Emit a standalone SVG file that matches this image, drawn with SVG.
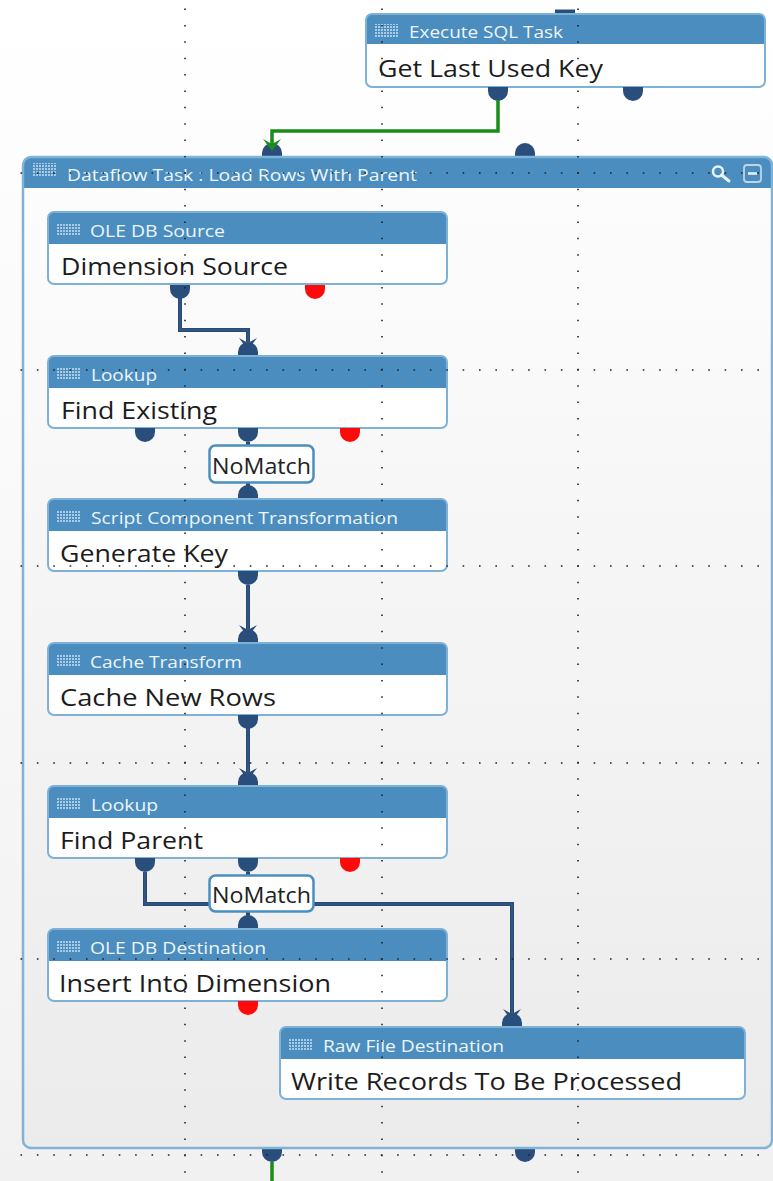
<svg xmlns="http://www.w3.org/2000/svg" xmlns:xlink="http://www.w3.org/1999/xlink" width="773" height="1181" viewBox="0 0 773 1181">
<defs>
<style>
.hdr{fill:#4a8dbe}
.frame{fill:none;stroke:#7eb1d6;stroke-width:2}
.th{font-family:"Open Sans","Noto Sans","Liberation Sans",sans-serif;font-size:16px;fill:#eef5fb}
.tb{font-family:"Open Sans","Noto Sans","Liberation Sans",sans-serif;font-size:24px;fill:#1c1c1c}
.tl{font-family:"Open Sans","Noto Sans","Liberation Sans",sans-serif;font-size:21px;fill:#222}
.port{fill:#2a4e7b}
.perr{fill:#ff0a0a}
.conn{fill:none;stroke:#284a77;stroke-width:4}
.connhi{fill:none;stroke:#3b5f8c;stroke-width:1}
.arr{fill:#284a77}
.green{fill:none;stroke:#1a8c1a;stroke-width:3.5}
.garr{fill:#1a8c1a}
.lbl{fill:#fff;stroke:#4a8fc0;stroke-width:2.5}
.grid{stroke:#222;stroke-width:1.6;stroke-dasharray:1.6 14.775;fill:none}
</style>
<linearGradient id="pagebg" x1="0" y1="0" x2="0" y2="1">
<stop offset="0" stop-color="#ffffff"/><stop offset="1" stop-color="#f1f1f1"/>
</linearGradient>
<linearGradient id="cbg" x1="0" y1="0" x2="0" y2="1">
<stop offset="0" stop-color="#fdfdfd"/><stop offset="1" stop-color="#ebebeb"/>
</linearGradient>
<pattern id="gi" width="3" height="3" patternUnits="userSpaceOnUse">
<rect x="0" y="0" width="2" height="2" fill="#a9cbe3"/>
</pattern>
<path id="outP" d="M-10,0 V4 A10,10 0 0 0 10,4 V0 Z"/>
<path id="inP" d="M-10,0 V-4 A10,10 0 0 1 10,-4 V0 Z"/>
<g id="box399">
<rect x="0" y="0" width="399" height="72" rx="6" fill="#fff"/>
<path class="hdr" d="M0,32 V6 Q0,0 6,0 H393 Q399,0 399,6 V32 Z"/>
<rect x="9" y="11" width="23" height="13" fill="url(#gi)"/>
<rect class="frame" x="0" y="0" width="399" height="72" rx="6"/>
</g>
<g id="box465">
<rect x="0" y="0" width="465" height="72" rx="6" fill="#fff"/>
<path class="hdr" d="M0,32 V6 Q0,0 6,0 H459 Q465,0 465,6 V32 Z"/>
<rect x="9" y="11" width="23" height="13" fill="url(#gi)"/>
<rect class="frame" x="0" y="0" width="465" height="72" rx="6"/>
</g>
</defs>

<rect x="0" y="0" width="773" height="1181" fill="url(#pagebg)"/>

<g id="node-execute-sql">
<rect class="port" x="555" y="9.5" width="20" height="4"/>
<g transform="translate(366,14)"><rect x="0" y="0" width="399" height="73" rx="6" fill="#fff"/>
<path class="hdr" d="M0,30 V6 Q0,0 6,0 H393 Q399,0 399,6 V30 Z"/>
<rect x="9" y="10" width="23" height="13" fill="url(#gi)"/>
<rect class="frame" x="0" y="0" width="399" height="73" rx="6"/></g>
<text class="th" x="409" y="38" textLength="154" lengthAdjust="spacingAndGlyphs">Execute SQL Task</text>
<text class="tb" x="378" y="77" textLength="225" lengthAdjust="spacingAndGlyphs">Get Last Used Key</text>
<use href="#outP" class="port" x="498" y="87"/>
<use href="#outP" class="port" x="633" y="87"/>
</g>

<g id="node-dataflow-container">
<use href="#inP" class="port" x="272" y="157"/>
<use href="#inP" class="port" x="525" y="157"/>
<use href="#outP" class="port" x="272" y="1148"/>
<use href="#outP" class="port" x="525" y="1148"/>
<rect x="23" y="157" width="749" height="991" rx="8" fill="url(#cbg)"/>
<path class="hdr" d="M23,188 V165 Q23,157 31,157 H764 Q772,157 772,165 V188 Z"/>
<rect x="33" y="163" width="23" height="13" fill="url(#gi)"/>
<rect x="23" y="157" width="749" height="991" rx="8" fill="none" stroke="#7fb3d8" stroke-width="2.5"/>
<text class="th" x="67" y="181" textLength="350" lengthAdjust="spacingAndGlyphs">Dataflow Task : Load Rows With Parent</text>
<circle cx="718" cy="171.5" r="5" fill="none" stroke="#eaf3fa" stroke-width="2.5"/>
<line x1="721.5" y1="175" x2="729" y2="181" stroke="#eaf3fa" stroke-width="3" stroke-linecap="round"/>
<rect x="744" y="165" width="17" height="17" rx="3" fill="none" stroke="#b9d6eb" stroke-width="1.8"/>
<line x1="748" y1="173.5" x2="757" y2="173.5" stroke="#eaf3fa" stroke-width="2.5"/>
</g>

<g id="connectors">
<path class="green" d="M498,100 V131 H272 V145"/>
<path class="garr" d="M263,139 L272,144 L281,139 L272,151 Z"/>
<path class="green" d="M272,1162 V1181"/>
<path class="conn" d="M180,298 V330 H248 V342"/>
<path class="connhi" d="M180,298 V330 H248 V342"/>
<path class="arr" d="M239,338 L248,343 L257,338 L248,350 Z"/>
<path class="conn" d="M248,442 V486"/>
<path class="conn" d="M248,585 V629"/>
<path class="connhi" d="M248,585 V629"/>
<path class="arr" d="M239,625 L248,630 L257,625 L248,637 Z"/>
<path class="conn" d="M248,728 V772"/>
<path class="connhi" d="M248,728 V772"/>
<path class="arr" d="M239,768 L248,773 L257,768 L248,780 Z"/>
<path class="conn" d="M145,872 V904 H512 V1013"/>
<path class="connhi" d="M145,872 V904 H512 V1013"/>
<path class="arr" d="M503,1009 L512,1014 L521,1009 L512,1021 Z"/>
<path class="conn" d="M248,872 V916"/>
</g>

<g id="node-ole-db-source">
<use href="#box399" x="48" y="212"/>
<text class="th" x="90" y="237" textLength="135" lengthAdjust="spacingAndGlyphs">OLE DB Source</text>
<text class="tb" x="61" y="275" textLength="227" lengthAdjust="spacingAndGlyphs">Dimension Source</text>
<use href="#outP" class="port" x="180" y="285"/>
<use href="#outP" class="perr" x="315" y="285"/>
</g>

<g id="node-lookup-find-existing">
<use href="#inP" class="port" x="248" y="356"/>
<use href="#box399" x="48" y="356"/>
<text class="th" x="91" y="380.5" textLength="66" lengthAdjust="spacingAndGlyphs">Lookup</text>
<text class="tb" x="61" y="419" textLength="156" lengthAdjust="spacingAndGlyphs">Find Existing</text>
<use href="#outP" class="port" x="145" y="428"/>
<use href="#outP" class="port" x="248" y="428"/>
<use href="#outP" class="perr" x="350" y="428"/>
</g>

<g id="node-script-component">
<use href="#inP" class="port" x="248" y="499"/>
<use href="#box399" x="48" y="499"/>
<text class="th" x="91" y="523.5" textLength="307" lengthAdjust="spacingAndGlyphs">Script Component Transformation</text>
<text class="tb" x="60" y="562" textLength="168" lengthAdjust="spacingAndGlyphs">Generate Key</text>
<use href="#outP" class="port" x="248" y="571"/>
</g>

<g id="label-nomatch-1">
<rect class="lbl" x="209.5" y="445.5" width="104" height="37" rx="6"/>
<text class="tl" x="212" y="474" textLength="99" lengthAdjust="spacingAndGlyphs">NoMatch</text>
</g>

<g id="node-cache-transform">
<use href="#inP" class="port" x="248" y="643"/>
<use href="#box399" x="48" y="643"/>
<text class="th" x="90" y="667.5" textLength="152" lengthAdjust="spacingAndGlyphs">Cache Transform</text>
<text class="tb" x="60" y="706" textLength="216" lengthAdjust="spacingAndGlyphs">Cache New Rows</text>
<use href="#outP" class="port" x="248" y="715"/>
</g>

<g id="node-lookup-find-parent">
<use href="#inP" class="port" x="248" y="786"/>
<use href="#box399" x="48" y="786"/>
<text class="th" x="91" y="810.5" textLength="67" lengthAdjust="spacingAndGlyphs">Lookup</text>
<text class="tb" x="60" y="849" textLength="143" lengthAdjust="spacingAndGlyphs">Find Parent</text>
<use href="#outP" class="port" x="145" y="858"/>
<use href="#outP" class="port" x="248" y="858"/>
<use href="#outP" class="perr" x="350" y="858"/>
</g>

<g id="node-ole-db-destination">
<use href="#inP" class="port" x="248" y="929"/>
<use href="#box399" x="48" y="929"/>
<text class="th" x="90" y="953.5" textLength="176" lengthAdjust="spacingAndGlyphs">OLE DB Destination</text>
<text class="tb" x="59" y="992" textLength="272" lengthAdjust="spacingAndGlyphs">Insert Into Dimension</text>
<use href="#outP" class="perr" x="248" y="1001"/>
</g>

<g id="label-nomatch-2">
<rect class="lbl" x="209.5" y="875.5" width="104" height="36" rx="6"/>
<text class="tl" x="212" y="903" textLength="99" lengthAdjust="spacingAndGlyphs">NoMatch</text>
</g>

<g id="node-raw-file-destination">
<use href="#inP" class="port" x="512" y="1027"/>
<use href="#box465" x="280" y="1027"/>
<text class="th" x="323" y="1051.5" textLength="181" lengthAdjust="spacingAndGlyphs">Raw File Destination</text>
<text class="tb" x="291" y="1090" textLength="391" lengthAdjust="spacingAndGlyphs">Write Records To Be Processed</text>
</g>

<g id="design-grid">
<line class="grid" x1="185" y1="8.5" x2="185" y2="1181"/>
<line class="grid" x1="382" y1="8.5" x2="382" y2="1181"/>
<line class="grid" x1="578" y1="8.5" x2="578" y2="1181"/>
<line class="grid" x1="20.5" y1="173" x2="773" y2="173"/>
<line class="grid" x1="20.5" y1="370" x2="773" y2="370"/>
<line class="grid" x1="20.5" y1="566" x2="773" y2="566"/>
<line class="grid" x1="20.5" y1="763" x2="773" y2="763"/>
<line class="grid" x1="20.5" y1="959" x2="773" y2="959"/>
<line class="grid" x1="20.5" y1="1155" x2="773" y2="1155"/>
</g>
</svg>
